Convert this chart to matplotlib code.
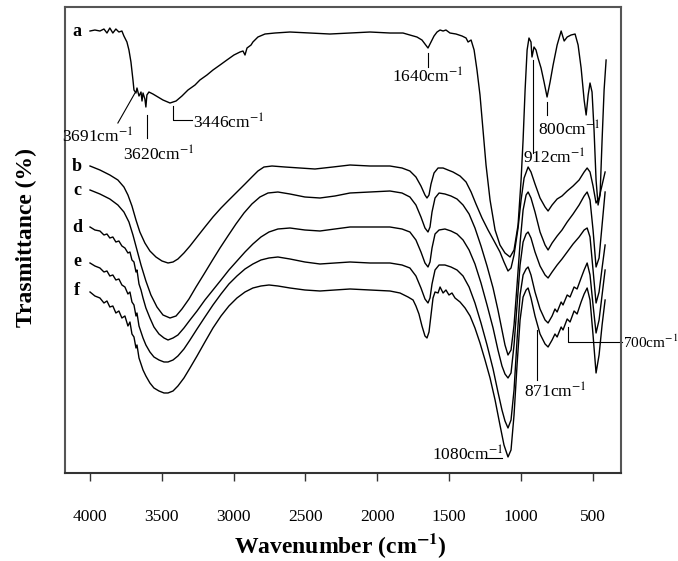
import numpy as np
import matplotlib
matplotlib.use("Agg")
import matplotlib.pyplot as plt

plt.rcParams['font.family'] = ['Liberation Serif', 'DejaVu Serif']
plt.rcParams['mathtext.fontset'] = 'stix'

# ---------------------------------------------------------------------------
# spectra (wavenumber in cm-1, transmittance in a.u.,
# curves already stacked with their vertical offsets)

wn_a = [4000, 3966, 3931, 3903, 3882, 3862, 3841, 3820, 3799, 3778,
        3764, 3743, 3729, 3715, 3701, 3694, 3680, 3673, 3659, 3645,
        3638, 3631, 3618, 3611, 3604, 3590, 3562, 3527, 3492, 3443,
        3401, 3360, 3318, 3269, 3235, 3186, 3144, 3095, 3047, 2998,
        2956, 2935, 2921, 2907, 2879, 2866, 2831, 2782, 2713, 2608,
        2469, 2330, 2190, 2051, 1912, 1821, 1773, 1724, 1689, 1668,
        1647, 1626, 1605, 1584, 1563, 1542, 1522, 1494, 1452, 1410,
        1382, 1368, 1347, 1326, 1306, 1285, 1264, 1243, 1215, 1180,
        1146, 1111, 1076, 1048, 1020, 999, 985, 971, 957, 944,
        930, 923, 909, 895, 881, 860, 839, 818, 797, 776,
        748, 720, 699, 678, 651, 623, 602, 581, 560, 546,
        532, 519, 505, 491, 477, 463, 449, 435, 421, 407]
t_a = [442, 443, 442, 444, 440, 445, 440, 444, 441, 442,
       437, 431, 423, 411, 393, 383, 380, 385, 377, 381,
       372, 380, 374, 366, 378, 381, 379, 376, 373, 370,
       372, 377, 383, 388, 393, 398, 403, 408, 413, 418,
       421, 422, 418, 425, 428, 431, 436, 439, 440, 441,
       440, 439, 440, 441, 440, 440, 438, 436, 433, 429,
       425, 431, 437, 441, 443, 442, 443, 440, 439, 437,
       435, 431, 433, 423, 403, 378, 343, 308, 273, 243,
       228, 220, 216, 223, 248, 293, 333, 383, 423, 435,
       431, 416, 426, 423, 415, 405, 391, 376, 391, 408,
       428, 442, 432, 436, 438, 439, 428, 405, 373, 358,
       378, 390, 381, 343, 293, 268, 278, 333, 383, 413]

wn_b = [4000, 3931, 3862, 3806, 3764, 3736, 3708, 3680, 3653, 3618,
        3583, 3541, 3499, 3457, 3422, 3388, 3346, 3304, 3255, 3200,
        3144, 3088, 3033, 2977, 2921, 2873, 2831, 2789, 2733, 2643,
        2539, 2434, 2309, 2190, 2051, 1912, 1828, 1773, 1731, 1696,
        1668, 1654, 1640, 1626, 1605, 1577, 1542, 1508, 1473, 1424,
        1382, 1347, 1313, 1271, 1229, 1187, 1146, 1118, 1090, 1069,
        1048, 1020, 999, 978, 950, 930, 902, 867, 832, 811,
        783, 748, 714, 678, 637, 595, 560, 539, 519, 498,
        477, 456, 435, 414]
t_b = [307, 303, 298, 293, 286, 278, 267, 253, 241, 230,
       222, 216, 212, 210, 211, 214, 220, 227, 236, 246,
       256, 265, 273, 281, 289, 296, 302, 306, 307, 306,
       305, 304, 306, 308, 307, 307, 305, 302, 296, 287,
       278, 275, 278, 289, 300, 305, 305, 303, 301, 297,
       291, 281, 269, 255, 243, 232, 221, 211, 202, 205,
       218, 245, 273, 295, 306, 301, 289, 275, 266, 262,
       268, 274, 277, 282, 287, 293, 301, 305, 301, 287,
       270, 275, 288, 301]

wn_c = [4000, 3931, 3862, 3806, 3764, 3729, 3701, 3673, 3645, 3611,
        3576, 3534, 3492, 3443, 3401, 3360, 3311, 3262, 3206, 3151,
        3095, 3040, 2984, 2928, 2873, 2817, 2761, 2692, 2608, 2504,
        2399, 2295, 2190, 2051, 1912, 1828, 1773, 1731, 1696, 1668,
        1647, 1633, 1619, 1598, 1570, 1529, 1487, 1445, 1403, 1361,
        1320, 1278, 1236, 1194, 1160, 1132, 1111, 1090, 1069, 1048,
        1027, 1006, 985, 964, 950, 930, 902, 867, 832, 811,
        783, 748, 714, 678, 637, 595, 560, 539, 519, 498,
        477, 456, 435, 414]
t_c = [283, 279, 274, 268, 261, 251, 238, 223, 208, 192,
       178, 166, 158, 155, 157, 164, 174, 186, 199, 212,
       225, 237, 249, 260, 269, 276, 280, 281, 279, 276,
       275, 277, 280, 281, 282, 280, 276, 268, 256, 245,
       241, 246, 261, 275, 280, 279, 277, 274, 268, 259,
       245, 227, 207, 185, 163, 143, 128, 118, 123, 148,
       188, 230, 263, 278, 281, 275, 261, 241, 228, 223,
       230, 237, 243, 251, 259, 268, 277, 281, 273, 243,
       206, 215, 248, 281]

wn_d = [4000, 3966, 3931, 3903, 3882, 3862, 3841, 3820, 3799, 3778,
        3757, 3736, 3722, 3708, 3694, 3680, 3673, 3659, 3645, 3631,
        3611, 3583, 3555, 3520, 3485, 3457, 3422, 3388, 3346, 3304,
        3255, 3200, 3144, 3088, 3033, 2977, 2921, 2866, 2810, 2754,
        2692, 2608, 2504, 2399, 2295, 2190, 2051, 1912, 1828, 1773,
        1731, 1696, 1668, 1647, 1633, 1619, 1598, 1570, 1529, 1487,
        1445, 1403, 1361, 1320, 1278, 1236, 1194, 1160, 1132, 1111,
        1090, 1069, 1048, 1027, 1006, 985, 964, 950, 930, 902,
        867, 832, 811, 783, 748, 714, 678, 637, 595, 560,
        539, 519, 498, 477, 456, 435, 414]
t_d = [246, 243, 242, 238, 239, 235, 236, 231, 232, 227,
       225, 220, 221, 213, 211, 201, 203, 189, 183, 175,
       165, 155, 146, 139, 135, 133, 135, 138, 145, 153,
       162, 173, 183, 193, 203, 212, 221, 229, 236, 241,
       244, 245, 243, 242, 244, 246, 246, 246, 244, 241,
       233, 221, 210, 206, 211, 225, 239, 243, 244, 242,
       239, 233, 223, 209, 190, 168, 145, 123, 107, 99,
       95, 100, 128, 168, 208, 231, 239, 241, 235, 221,
       207, 198, 195, 201, 208, 214, 221, 229, 236, 243,
       245, 236, 203, 170, 181, 205, 228]

wn_e = [4000, 3966, 3931, 3903, 3882, 3862, 3841, 3820, 3799, 3778,
        3757, 3736, 3722, 3708, 3694, 3680, 3673, 3659, 3645, 3631,
        3611, 3583, 3555, 3520, 3485, 3457, 3422, 3388, 3346, 3304,
        3255, 3200, 3144, 3088, 3033, 2977, 2921, 2866, 2810, 2754,
        2692, 2608, 2504, 2399, 2295, 2190, 2051, 1912, 1828, 1773,
        1731, 1696, 1668, 1647, 1633, 1619, 1598, 1570, 1529, 1487,
        1445, 1403, 1361, 1320, 1278, 1236, 1194, 1160, 1132, 1111,
        1090, 1069, 1048, 1027, 1006, 985, 964, 950, 930, 902,
        867, 832, 811, 783, 763, 748, 720, 707, 678, 658,
        630, 609, 581, 560, 539, 519, 498, 477, 456, 435,
        414]
t_e = [210, 207, 205, 201, 202, 197, 198, 193, 194, 188,
       186, 179, 181, 171, 168, 157, 160, 147, 141, 135,
       128, 121, 116, 113, 111, 111, 113, 117, 124, 133,
       144, 156, 168, 179, 189, 197, 204, 209, 213, 215,
       216, 214, 211, 209, 210, 211, 210, 210, 208, 205,
       197, 185, 174, 170, 175, 189, 203, 208, 208, 206,
       203, 197, 186, 170, 150, 128, 104, 81, 63, 52,
       45, 53, 83, 133, 178, 198, 204, 206, 198, 181,
       164, 153, 150, 157, 164, 161, 171, 168, 178, 176,
       186, 184, 195, 203, 210, 198, 168, 140, 153, 178,
       203]

wn_f = [4000, 3966, 3931, 3903, 3882, 3862, 3841, 3820, 3799, 3778,
        3757, 3736, 3722, 3708, 3694, 3680, 3673, 3659, 3645, 3631,
        3611, 3583, 3555, 3520, 3485, 3457, 3422, 3388, 3346, 3304,
        3255, 3200, 3144, 3088, 3033, 2977, 2921, 2866, 2810, 2754,
        2692, 2608, 2504, 2399, 2295, 2190, 2051, 1912, 1842, 1786,
        1751, 1731, 1710, 1689, 1668, 1654, 1640, 1626, 1612, 1598,
        1577, 1563, 1542, 1522, 1501, 1480, 1459, 1424, 1389, 1354,
        1320, 1285, 1250, 1215, 1180, 1146, 1118, 1090, 1069, 1048,
        1027, 1006, 985, 964, 950, 930, 902, 867, 832, 811,
        783, 763, 748, 720, 707, 678, 658, 630, 609, 581,
        560, 539, 519, 498, 477, 456, 435, 414]
t_f = [181, 177, 175, 170, 172, 166, 167, 160, 162, 155,
       157, 147, 151, 139, 136, 125, 128, 115, 109, 103,
       97, 90, 85, 82, 80, 80, 82, 87, 95, 105,
       117, 131, 145, 157, 167, 175, 181, 185, 187, 188,
       187, 185, 183, 182, 183, 184, 183, 182, 180, 176,
       173, 167, 159, 147, 137, 135, 141, 158, 175, 181,
       180, 186, 180, 183, 178, 180, 175, 171, 165, 157,
       145, 130, 113, 95, 73, 48, 28, 16, 23, 58,
       108, 153, 176, 183, 185, 175, 157, 139, 129, 126,
       133, 139, 136, 146, 143, 154, 151, 162, 159, 171,
       179, 185, 173, 138, 100, 118, 148, 173]

curves = [('a', wn_a, t_a), ('b', wn_b, t_b), ('c', wn_c, t_c),
          ('d', wn_d, t_d), ('e', wn_e, t_e), ('f', wn_f, t_f)]

# label of each curve, put at its left end
letter_t = {'a': 442, 'b': 307, 'c': 282, 'd': 245, 'e': 211, 'f': 182}

# peak annotations: text, text position, leader line (wn list, t list), size
peaks = [
    ('3691', (4196, 336), ([3687, 3806], [380, 350]), 12.5),
    ('3620', (3771, 318), ([3604, 3604], [358, 335]), 12.5),
    ('3446', (3283, 350), ([3422, 3422, 3290], [367, 353, 353]), 12.5),
    ('1640', (1898, 396), ([1647, 1647], [420, 406]), 12.5),
    ('912', (985, 315), ([916, 916], [413, 320]), 12.5),
    ('800', (881, 343), ([818, 818], [371, 358]), 12.5),
    ('871', (978, 81), ([888, 888], [143, 93]), 12.5),
    ('1080', (1619, 18), ([1250, 1132], [15, 15]), 12.5),
    ('700', (287, 131), ([672, 672, 296], [146, 131, 131]), 11),
]

# ---------------------------------------------------------------------------

fig = plt.figure(figsize=(6.78, 5.61), dpi=100)
ax = fig.add_axes([0.0959, 0.1569, 0.8201, 0.8306])

for name, x, y in curves:
    ax.plot(x, y, color='black', lw=1.0)
    ax.text(4090, letter_t[name], name, fontsize=13, fontweight='bold',
            ha='center', va='center')

for txt, (tx, ty), (lx, ly), fs in peaks:
    ax.plot(lx, ly, color='black', lw=0.8, clip_on=False)
    ax.text(tx, ty, txt + r'cm$^{-1}$', fontsize=fs, ha='left',
            va='center', clip_on=False)

ax.set_xlim(4174, 303)
ax.set_ylim(0, 466)
ax.set_xticks([4000, 3500, 3000, 2500, 2000, 1500, 1000, 500])
ax.set_yticks([])
ax.tick_params(axis='x', direction='out', length=6, width=1.0,
               labelsize=12.5, pad=20, color='#333333')

for s in ax.spines.values():
    s.set_color('#555555')
    s.set_linewidth(1.5)
ax.spines['bottom'].set_color('#333333')

ax.set_xlabel(r'Wavenumber (cm$^{\mathbf{-1}}$)', fontsize=17,
              fontweight='bold', va='center')
ax.xaxis.set_label_coords(0.495, -0.155)
ax.set_ylabel('Trasmittance (%)', fontsize=17, fontweight='bold',
              va='center')
ax.yaxis.set_label_coords(-0.070, 0.506)

fig.savefig('out.png', dpi=100)
